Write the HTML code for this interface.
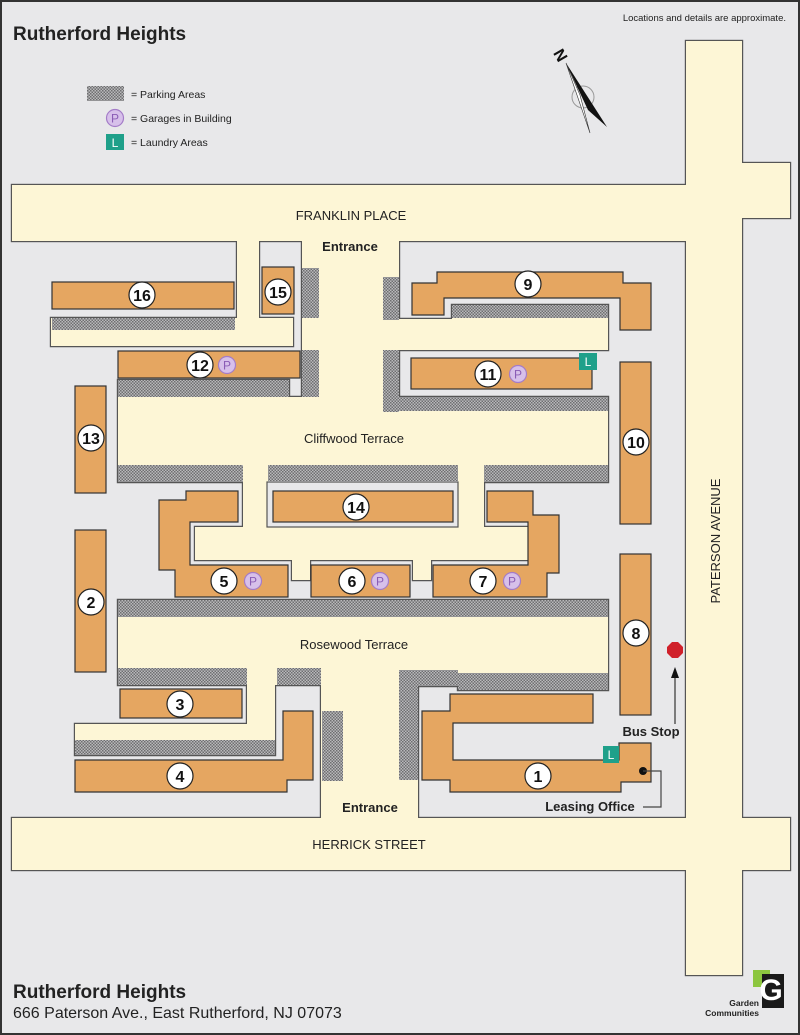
<!DOCTYPE html>
<html><head><meta charset="utf-8"><style>
html,body{margin:0;padding:0;background:#e8e8ea;}
svg{display:block;font-family:"Liberation Sans",sans-serif;}
</style></head><body>
<svg width="800" height="1035" viewBox="0 0 800 1035" xmlns="http://www.w3.org/2000/svg">
<defs>
<pattern id="pk" width="3" height="3" patternUnits="userSpaceOnUse">
<rect width="3" height="3" fill="#b9b9bb"/><rect width="1.5" height="1.5" fill="#6e6e70"/><rect x="1.5" y="1.5" width="1.5" height="1.5" fill="#6e6e70"/>
</pattern>
<g id="cream">
<rect x="12" y="185" width="674" height="56"/>
<rect x="686" y="41" width="56" height="934"/>
<rect x="742" y="163" width="48" height="55"/>
<rect x="12" y="818" width="778" height="52"/>
<polygon points="237,241 259,241 259,318 293,318 293,346 51,346 51,318 237,318"/>
<polygon points="302,241 399,241 399,319 452,319 452,305 608,305 608,350 399,350 399,397 608,397 608,482 484,482 484,527 528,527 528,560 431,560 431,580 413,580 413,560 310,560 310,580 292,580 292,560 195,560 195,527 243,527 243,482 118,482 118,380 289,380 289,397 302,397"/>
<polygon points="118,600 608,600 608,690 458,690 458,686 418,686 418,818 321,818 321,685 275,685 275,755 75,755 75,724 247,724 247,685 118,685"/>
</g>
</defs>
<rect x="1" y="1" width="798" height="1033" fill="#e8e8ea" stroke="#333" stroke-width="2"/>
<use href="#cream" fill="#555" stroke="#555" stroke-width="2.4"/>
<use href="#cream" fill="#fdf6d6"/>
<rect x="267" y="482" width="191" height="45" fill="#e8e8ea" stroke="#555" stroke-width="1.2"/>
<g fill="url(#pk)">
<rect x="52" y="318" width="183" height="12"/>
<rect x="302" y="268" width="17" height="50"/><rect x="302" y="350" width="17" height="47"/>
<rect x="383" y="277" width="16" height="43"/><rect x="383" y="350" width="16" height="62"/><rect x="399" y="397" width="209" height="14"/>
<rect x="452" y="305" width="156" height="13"/>
<rect x="118" y="380" width="171" height="17"/>
<rect x="118" y="465" width="125" height="17"/><rect x="268" y="465" width="190" height="17"/><rect x="484" y="465" width="124" height="17"/>
<rect x="118" y="600" width="490" height="17"/>
<rect x="118" y="668" width="129" height="17"/><rect x="277" y="668" width="44" height="17"/><rect x="75" y="740" width="200" height="15"/><rect x="322" y="711" width="21" height="70"/>
<rect x="399" y="670" width="19" height="110"/><rect x="399" y="670" width="59" height="16"/><rect x="458" y="673" width="150" height="17"/>
</g>
<g fill="#e5a661" stroke="#333" stroke-width="1.2">
<rect x="52" y="282" width="182" height="27"/>
<rect x="262" y="267" width="32" height="47"/>
<rect x="118" y="351" width="182" height="27"/>
<rect x="75" y="386" width="31" height="107"/>
<polygon points="412,283 437,283 437,272 623,272 623,283 651,283 651,330 620,330 620,298 444,298 444,315 412,315"/>
<rect x="411" y="358" width="181" height="31"/>
<rect x="620" y="362" width="31" height="162"/>
<rect x="273" y="491" width="180" height="31"/>
<polygon points="186,491 238,491 238,522 190,522 190,565 288,565 288,597 175,597 175,570 159,570 159,500 186,500"/>
<rect x="311" y="565" width="99" height="32"/>
<polygon points="487,491 533,491 533,515 559,515 559,573 547,573 547,597 433,597 433,565 528,565 528,522 487,522"/>
<rect x="75" y="530" width="31" height="142"/>
<rect x="620" y="554" width="31" height="161"/>
<rect x="120" y="689" width="122" height="29"/>
<polygon points="75,760 283,760 283,711 313,711 313,780 287,780 287,792 75,792"/>
<polygon points="450,694 593,694 593,723 453,723 453,760 619,760 619,743 651,743 651,782 621,782 621,792 450,792 450,780 422,780 422,711 450,711"/>
</g>
<g fill="#fff" stroke="#222" stroke-width="1.2">
<circle cx="142" cy="295" r="13"/><circle cx="278" cy="292" r="13"/><circle cx="200" cy="365" r="13"/><circle cx="91" cy="438" r="13"/>
<circle cx="528" cy="284" r="13"/><circle cx="488" cy="374" r="13"/><circle cx="636" cy="442" r="13"/><circle cx="356" cy="507" r="13"/>
<circle cx="224" cy="581" r="13"/><circle cx="352" cy="581" r="13"/><circle cx="483" cy="581" r="13"/><circle cx="91" cy="602" r="13"/>
<circle cx="636" cy="633" r="13"/><circle cx="180" cy="704" r="13"/><circle cx="180" cy="776" r="13"/><circle cx="538" cy="776" r="13"/>
</g>
<g font-size="16" font-weight="bold" text-anchor="middle" fill="#111">
<text x="142" y="301">16</text><text x="278" y="298">15</text><text x="200" y="371">12</text><text x="91" y="444">13</text>
<text x="528" y="290">9</text><text x="488" y="380">11</text><text x="636" y="448">10</text><text x="356" y="513">14</text>
<text x="224" y="587">5</text><text x="352" y="587">6</text><text x="483" y="587">7</text><text x="91" y="608">2</text>
<text x="636" y="639">8</text><text x="180" y="710">3</text><text x="180" y="782">4</text><text x="538" y="782">1</text>
</g>
<g fill="#d7c0ea" stroke="#a47cc8" stroke-width="1.2">
<circle cx="227" cy="365" r="8.5"/><circle cx="518" cy="374" r="8.5"/><circle cx="253" cy="581" r="8.5"/><circle cx="380" cy="581" r="8.5"/><circle cx="512" cy="581" r="8.5"/><circle cx="115" cy="118" r="8.5"/>
</g>
<g font-size="12" text-anchor="middle" fill="#8a5cb5">
<text x="227" y="369.5">P</text><text x="518" y="378.5">P</text><text x="253" y="585.5">P</text><text x="380" y="585.5">P</text><text x="512" y="585.5">P</text><text x="115" y="122.5">P</text>
</g>
<g fill="#1fa08a"><rect x="579" y="353" width="18" height="17"/><rect x="603" y="746" width="16" height="17"/><rect x="106" y="134" width="18" height="16"/></g>
<g font-size="12" fill="#fff" text-anchor="middle"><text x="588" y="366">L</text><text x="611" y="759">L</text><text x="115" y="147">L</text></g>
<rect x="87" y="86" width="37" height="15" fill="url(#pk)"/>
<g font-size="10.5" fill="#222"><text x="131" y="98">= Parking Areas</text><text x="131" y="122">= Garages in Building</text><text x="131" y="146">= Laundry Areas</text></g>
<circle cx="583" cy="97" r="11" fill="none" stroke="#999" stroke-width="1"/>
<polygon points="566,63 607,127 588,110" fill="#111"/>
<polygon points="566,63 590,133 580,95" fill="#fff" stroke="#333" stroke-width="0.6"/>
<text x="561" y="61" font-size="16" font-weight="bold" fill="#111" text-anchor="middle" transform="rotate(60 561 55)">N</text>
<text x="13" y="40" font-size="19" font-weight="bold" fill="#222">Rutherford Heights</text>
<text x="786" y="21" font-size="9.5" fill="#222" text-anchor="end">Locations and details are approximate.</text>
<text x="351" y="220" font-size="13" fill="#222" text-anchor="middle">FRANKLIN PLACE</text>
<text x="350" y="251" font-size="13" font-weight="bold" fill="#222" text-anchor="middle">Entrance</text>
<text x="354" y="443" font-size="13" fill="#222" text-anchor="middle">Cliffwood Terrace</text>
<text x="354" y="649" font-size="13" fill="#222" text-anchor="middle">Rosewood Terrace</text>
<text x="370" y="812" font-size="13" font-weight="bold" fill="#222" text-anchor="middle">Entrance</text>
<text x="369" y="849" font-size="13" fill="#222" text-anchor="middle">HERRICK STREET</text>
<text x="720" y="541" font-size="13" fill="#222" text-anchor="middle" transform="rotate(-90 720 541)">PATERSON AVENUE</text>
<text x="651" y="736" font-size="13" font-weight="bold" fill="#222" text-anchor="middle">Bus Stop</text>
<text x="590" y="811" font-size="13" font-weight="bold" fill="#222" text-anchor="middle">Leasing Office</text>
<circle cx="643" cy="771" r="4" fill="#111"/>
<polyline points="643,771 661,771 661,807 643,807" fill="none" stroke="#444" stroke-width="1.2"/>
<line x1="675" y1="724" x2="675" y2="676" stroke="#333" stroke-width="1.2"/>
<polygon points="671,678 679,678 675,667" fill="#111"/>
<polygon points="672,642 678,642 683,647 683,653 678,658 672,658 667,653 667,647" fill="#d0202a"/>
<text x="13" y="998" font-size="19" font-weight="bold" fill="#222">Rutherford Heights</text>
<text x="13" y="1018" font-size="16" fill="#222">666 Paterson Ave., East Rutherford, NJ 07073</text>
<rect x="753" y="970" width="17" height="17" fill="#8cc63f"/>
<rect x="762" y="974" width="22" height="34" fill="#1a1a1a"/>
<text x="771" y="1000" font-size="30" font-weight="bold" fill="#fff" text-anchor="middle">G</text>
<text x="759" y="1006" font-size="8.5" font-weight="bold" fill="#222" text-anchor="end">Garden</text>
<text x="759" y="1016" font-size="8.5" font-weight="bold" fill="#222" text-anchor="end">Communities</text>
</svg>
</body></html>
